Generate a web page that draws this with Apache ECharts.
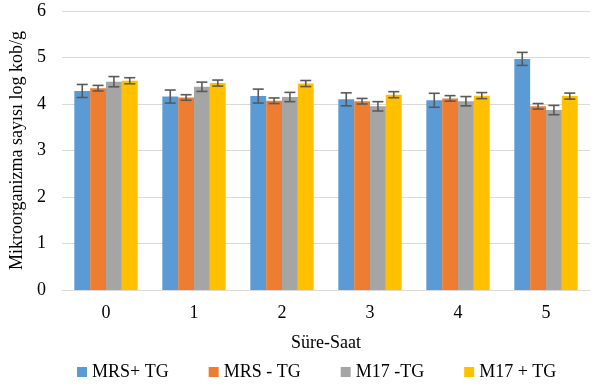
<!DOCTYPE html>
<html>
<head>
<meta charset="utf-8">
<script src="https://cdn.jsdelivr.net/npm/echarts@6/dist/echarts.min.js"></script>
<style>
  html, body { margin: 0; padding: 0; background: #fff; }
  #chart { width: 594px; height: 387px; }
</style>
</head>
<body>
<div id="chart"></div>
<script>
// Time points (hours)
const categories = ['0', '1', '2', '3', '4', '5'];
const seriesNames = ['MRS+ TG', 'MRS - TG', 'M17 -TG', 'M17 + TG'];
const colors = ['#5b9bd5', '#ed7d31', '#a5a5a5', '#ffc000'];

// Mean counts (log cfu/g) per medium
const mrsPlusTG  = [4.28, 4.16, 4.17, 4.10, 4.08, 4.97];
const mrsMinusTG = [4.34, 4.14, 4.07, 4.06, 4.12, 3.95];
const m17MinusTG = [4.48, 4.37, 4.15, 3.95, 4.06, 3.87];
const m17PlusTG  = [4.50, 4.45, 4.44, 4.20, 4.18, 4.17];

// Standard deviations
const errMrsPlusTG  = [0.14, 0.14, 0.15, 0.14, 0.15, 0.14];
const errMrsMinusTG = [0.06, 0.06, 0.06, 0.06, 0.06, 0.06];
const errM17MinusTG = [0.11, 0.10, 0.10, 0.10, 0.10, 0.10];
const errM17PlusTG  = [0.065, 0.065, 0.065, 0.065, 0.065, 0.065];

const yTicks = [0, 1, 2, 3, 4, 5, 6];

const means = [mrsPlusTG, mrsMinusTG, m17MinusTG, m17PlusTG];
const errs = [errMrsPlusTG, errMrsMinusTG, errM17MinusTG, errM17PlusTG];

const CATEGORY_GAP = 0.28;
const FONT = '"Liberation Serif", "DejaVu Serif", serif';

function errorSeries(idx) {
  const data = means[idx].map((m, i) => [i, m - errs[idx][i], m + errs[idx][i]]);
  return {
    type: 'custom',
    name: seriesNames[idx],
    z: 10,
    silent: true,
    renderItem: function (params, api) {
      const band = api.size([1, 0])[0];
      const barW = band * (1 - CATEGORY_GAP) / 4;
      const center = api.coord([api.value(0), 0])[0] + (idx - 1.5) * barW;
      const lo = api.coord([api.value(0), api.value(1)])[1];
      const hi = api.coord([api.value(0), api.value(2)])[1];
      const cap = 5.5;
      const style = { stroke: '#595959', lineWidth: 1.6 };
      return {
        type: 'group',
        children: [
          { type: 'line', shape: { x1: center, y1: lo, x2: center, y2: hi }, style: style },
          { type: 'line', shape: { x1: center - cap, y1: hi, x2: center + cap, y2: hi }, style: style },
          { type: 'line', shape: { x1: center - cap, y1: lo, x2: center + cap, y2: lo }, style: style }
        ]
      };
    },
    encode: { x: 0, y: [1, 2] },
    data: data
  };
}

const barSeries = means.map((vals, idx) => ({
  type: 'bar',
  name: seriesNames[idx],
  data: vals,
  barGap: '0%',
  barCategoryGap: (CATEGORY_GAP * 100) + '%',
  itemStyle: { color: colors[idx] }
}));

const chart = echarts.init(document.getElementById('chart'), null, { renderer: 'canvas' });
chart.setOption({
  animation: false,
  color: colors,
  textStyle: { fontFamily: FONT },
  grid: { left: 59, right: 4, top: 11, bottom: 97 },
  legend: {
    data: seriesNames,
    left: 77,
    top: 363,
    padding: 0,
    itemWidth: 10,
    itemHeight: 10,
    itemGap: 40,
    icon: 'rect',
    textStyle: { fontFamily: FONT, fontSize: 18, color: '#000' }
  },
  xAxis: {
    type: 'category',
    data: categories,
    name: 'Süre-Saat',
    nameLocation: 'middle',
    nameGap: 44,
    nameTextStyle: { fontFamily: FONT, fontSize: 18, color: '#000' },
    axisLine: { lineStyle: { color: '#d9d9d9', width: 1 } },
    axisTick: { show: false },
    axisLabel: { fontFamily: FONT, fontSize: 18, color: '#000', margin: 14 }
  },
  yAxis: {
    type: 'value',
    min: yTicks[0],
    max: yTicks[yTicks.length - 1],
    interval: 1,
    name: 'Mikroorganizma sayısı log kob/g',
    nameLocation: 'middle',
    nameGap: 36,
    nameTextStyle: { fontFamily: FONT, fontSize: 18, color: '#000' },
    axisLine: { show: false },
    axisTick: { show: false },
    axisLabel: { fontFamily: FONT, fontSize: 18, color: '#000', margin: 16 },
    splitLine: { lineStyle: { color: '#d9d9d9', width: 1 } }
  },
  series: barSeries.concat([0, 1, 2, 3].map(errorSeries))
});
</script>
</body>
</html>
